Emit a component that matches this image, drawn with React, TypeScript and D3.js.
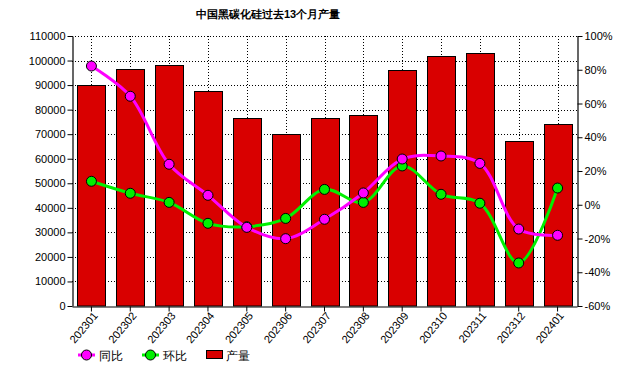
import React, { useEffect, useRef } from 'react';
import * as d3 from 'd3';

const months = ['202301', '202302', '202303', '202304', '202305', '202306', '202307', '202308', '202309', '202310', '202311', '202312', '202401'];
const output = [90000, 96400, 98200, 87500, 76500, 70000, 76500, 77700, 96000, 101700, 103000, 67100, 74000];
const yoy = [82.2, 64.3, 24.0, 5.6, -13.4, -20.1, -8.6, 7.0, 27.1, 28.9, 24.5, -14.4, -18.1];
const mom = [13.9, 6.8, 1.4, -11.0, -13.0, -8.1, 9.1, 1.4, 23.0, 6.2, 0.9, -34.5, 9.9];
const leftTicks = d3.range(0, 110001, 10000);
const rightTicks = d3.range(-60, 101, 20);

const W = 628;
const H = 388;
const m = { left: 72, right: 51, top: 36, bottom: 82 };
const font = '"Liberation Sans", Arial, sans-serif';

const App = () => {
  const ref = useRef(null);

  useEffect(() => {
    const svg = d3.select(ref.current);
    svg.selectAll('*').remove();

    const x = d3.scaleBand().domain(months).range([m.left, W - m.right])
      .paddingInner(0.28).paddingOuter(0.14);
    const y = d3.scaleLinear().domain([0, 110000]).range([H - m.bottom, m.top]);
    const y2 = d3.scaleLinear().domain([-60, 100]).range([H - m.bottom, m.top]);
    const cx = (d: string) => (x(d) as number) + x.bandwidth() / 2;

    // title
    svg.append('text')
      .attr('x', 268).attr('y', 18)
      .attr('text-anchor', 'middle')
      .attr('font-family', font).attr('font-size', 11).attr('font-weight', 'bold')
      .text('中国黑碳化硅过去13个月产量');

    // grid
    const grid = svg.append('g').attr('stroke', '#000').attr('stroke-dasharray', '1,2').attr('stroke-width', 1);
    leftTicks.slice(1).forEach(t => {
      grid.append('line').attr('x1', m.left).attr('x2', W - m.right)
        .attr('y1', Math.round(y(t)) + 0.5).attr('y2', Math.round(y(t)) + 0.5);
    });
    months.forEach(d => {
      grid.append('line').attr('x1', Math.round(cx(d)) + 0.5).attr('x2', Math.round(cx(d)) + 0.5)
        .attr('y1', m.top).attr('y2', H - m.bottom);
    });

    // bars
    svg.append('g').selectAll('rect').data(output).join('rect')
      .attr('x', (_, i) => Math.round(x(months[i]) as number) + 0.5)
      .attr('y', d => Math.round(y(d)) + 0.5)
      .attr('width', Math.round(x.bandwidth()))
      .attr('height', d => y(0) - Math.round(y(d)) - 0.5)
      .attr('fill', '#d90000').attr('stroke', '#000').attr('stroke-width', 1);

    // axes
    const left = svg.append('g').attr('transform', `translate(${m.left + 0.5},0)`)
      .call(d3.axisLeft(y).tickValues(leftTicks).tickSize(5).tickSizeOuter(0).tickFormat(d3.format('d')));
    const right = svg.append('g').attr('transform', `translate(${W - m.right + 0.5},0)`)
      .call(d3.axisRight(y2).tickValues(rightTicks).tickSize(5).tickSizeOuter(0).tickFormat(d => `${d}%`));
    const bottom = svg.append('g').attr('transform', `translate(0,${H - m.bottom + 0.5})`)
      .call(d3.axisBottom(x).tickSize(5).tickSizeOuter(0));
    [left, right, bottom].forEach(g => {
      g.selectAll('path').attr('stroke', '#000').attr('stroke-width', 1.2);
      g.selectAll('line').attr('stroke', '#000');
      g.selectAll('text').attr('font-family', font).attr('font-size', 11).attr('fill', '#000');
    });
    left.selectAll('text').attr('x', -7);
    right.selectAll('text').attr('x', 7);
    bottom.selectAll('text')
      .attr('text-anchor', 'end')
      .attr('transform', 'translate(4,7) rotate(-50)')
      .attr('dy', '0.35em').attr('x', 0).attr('y', 0);

    // lines
    const drawSeries = (vals: number[], color: string) => {
      const line = d3.line<number>()
        .x((_, i) => cx(months[i]))
        .y(d => y2(d))
        .curve(d3.curveCatmullRom.alpha(0.5));
      svg.append('path').datum(vals).attr('d', line)
        .attr('fill', 'none').attr('stroke', color).attr('stroke-width', 3);
      svg.append('g').selectAll('circle').data(vals).join('circle')
        .attr('cx', (_, i) => cx(months[i])).attr('cy', d => y2(d)).attr('r', 5)
        .attr('fill', color).attr('stroke', '#000').attr('stroke-width', 1);
    };
    drawSeries(mom, '#00f000');
    drawSeries(yoy, '#ff00ff');

    // legend
    const lg = svg.append('g').attr('font-family', font).attr('font-size', 12);
    const items = [
      { label: '同比', color: '#ff00ff', x: 78 },
      { label: '环比', color: '#00f000', x: 142 },
    ];
    items.forEach(it => {
      lg.append('line').attr('x1', it.x).attr('x2', it.x + 17).attr('y1', 355).attr('y2', 355)
        .attr('stroke', it.color).attr('stroke-width', 3);
      lg.append('circle').attr('cx', it.x + 8.5).attr('cy', 355).attr('r', 5)
        .attr('fill', it.color).attr('stroke', '#000');
      lg.append('text').attr('x', it.x + 21).attr('y', 359.5).text(it.label);
    });
    lg.append('rect').attr('x', 206.5).attr('y', 350.5).attr('width', 16).attr('height', 8)
      .attr('fill', '#d90000').attr('stroke', '#000');
    lg.append('text').attr('x', 226).attr('y', 359.5).text('产量');
  }, []);

  return (
    <svg ref={ref} width={W} height={H}
      style={{ position: 'absolute', left: 0, top: 0, background: '#fff' }} />
  );
};

export default App;
